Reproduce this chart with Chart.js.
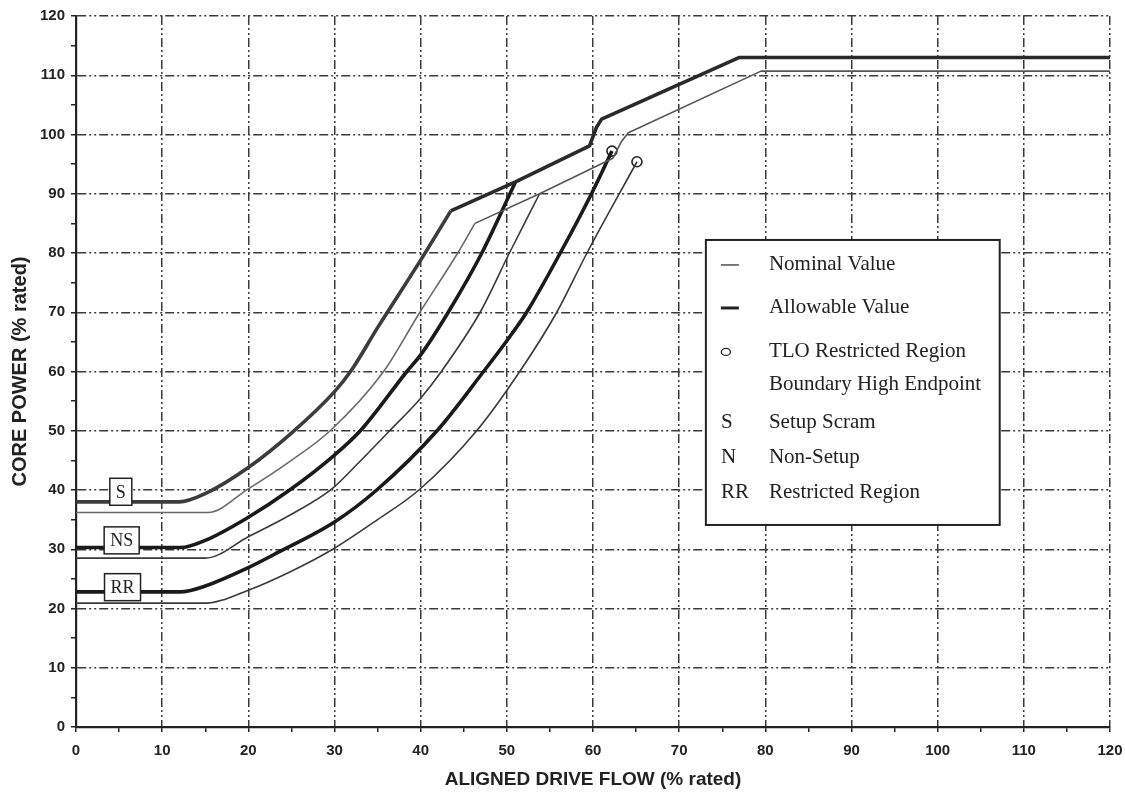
<!DOCTYPE html>
<html>
<head>
<meta charset="utf-8">
<script src="https://cdn.jsdelivr.net/npm/chart.js@4.4.1/dist/chart.umd.min.js"></script>
<style>
  body { margin: 0; background: #fff; }
  #grafica { display: block; }
</style>
</head>
<body>
<canvas id="grafica" width="1125" height="799"></canvas>
<script>
// ejes
const flowTicks = [0, 10, 20, 30, 40, 50, 60, 70, 80, 90, 100, 110, 120];
const powerTicks = [0, 10, 20, 30, 40, 50, 60, 70, 80, 90, 100, 110, 120];

// Setup Scram (S): tramo curvo y tramo recto
const sAllowFlow = [0, 12, 15, 20, 25, 30, 32, 35, 40, 43.5];
const sAllowPower = [38, 38, 39.4, 43.8, 49.6, 56.6, 60.3, 67.4, 78.8, 87.1];
const sAllowTopFlow = [43.5, 51, 59.6, 60.4, 61, 77, 120];
const sAllowTopPower = [87.1, 92, 98.1, 101.2, 102.6, 113, 113];
const sNomFlow = [0, 15.3, 20, 25, 29.5, 35.7, 39.7, 44.3, 46.3];
const sNomPower = [36.2, 36.2, 40.2, 45, 50, 60, 69.5, 80, 85];
const sNomTopFlow = [46.3, 53.8, 62.3, 63.3, 64.1, 79.5, 120];
const sNomTopPower = [85, 90, 96, 98.8, 100.3, 110.7, 110.7];

// Non-Setup (NS)
const nsAllowFlow = [0, 12.1, 15, 20, 24.8, 30, 33, 38.4, 40, 43.2, 47.1, 51];
const nsAllowPower = [30.3, 30.3, 31.5, 35.4, 40, 45.9, 50, 60, 62.8, 70, 80, 92];
const nsNomFlow = [0, 15, 20, 25, 29.7, 33, 36.4, 40, 42.4, 46.9, 50.3, 53.8];
const nsNomPower = [28.5, 28.5, 32.1, 35.9, 40.2, 44.9, 50, 55.5, 60, 70, 80, 90];

// Restricted Region (RR)
const rrAllowFlow = [0, 12.1, 15, 20, 23.5, 30, 34.9, 41.9, 47.3, 50, 52.3, 56.2, 59.65, 62.2];
const rrAllowPower = [22.8, 22.8, 23.8, 26.9, 29.5, 34.6, 40, 50, 60, 65.2, 70, 80, 89.5, 97.2];
const rrNomFlow = [0, 15, 20, 25, 29.8, 35, 39.8, 46.5, 51.5, 55.8, 59.3, 65.1];
const rrNomPower = [20.9, 20.9, 23.1, 26.3, 30, 35, 40, 50, 60, 70, 80, 95.4];

// TLO Restricted Region Boundary High Endpoint
const tloFlow = [62.2, 65.1];
const tloPower = [97.2, 95.4];

// etiquetas en cajas
const boxLabels = ['S', 'NS', 'RR'];
const boxFlow = [5.2, 5.3, 5.4];
const boxPower = [39.7, 31.5, 23.6];

// leyenda
const legendKind = ['thin', 'thick', 'circle', 'text', 'text', 'text'];
const legendKey = ['', '', '', 'S', 'N', 'RR'];
const legendText = [
    ['Nominal Value'],
    ['Allowable Value'],
    ['TLO Restricted Region', 'Boundary High Endpoint'],
    ['Setup Scram'],
    ['Non-Setup'],
    ['Restricted Region']
];

function puntos(xs, ys) {
    return xs.map((x, i) => ({ x: x, y: ys[i] }));
}

function linea(xs, ys, grueso, color, curva) {
    return {
        data: puntos(xs, ys),
        borderColor: color,
        borderWidth: grueso ? 3.6 : 1.6,
        pointRadius: 0,
        tension: 0,
        cubicInterpolationMode: curva ? 'monotone' : 'default',
        borderJoinStyle: 'round',
        fill: false
    };
}

const serif = '"Liberation Serif", "Times New Roman", serif';
const sans = '"Liberation Sans", Arial, sans-serif';

const anotaciones = {
    id: 'anotaciones',
    afterDatasetsDraw(chart) {
        const ctx = chart.ctx;
        const x = chart.scales.x;
        const y = chart.scales.y;

        // cajas S / NS / RR
        ctx.save();
        ctx.font = '18px ' + serif;
        ctx.textAlign = 'center';
        ctx.textBaseline = 'middle';
        boxLabels.forEach((txt, i) => {
            const cx = x.getPixelForValue(boxFlow[i]);
            const cy = y.getPixelForValue(boxPower[i]);
            const w = ctx.measureText(txt).width + 12;
            const h = 27;
            ctx.fillStyle = '#fff';
            ctx.fillRect(cx - w / 2, cy - h / 2, w, h);
            ctx.strokeStyle = '#222';
            ctx.lineWidth = 1.5;
            ctx.strokeRect(cx - w / 2, cy - h / 2, w, h);
            ctx.fillStyle = '#222';
            ctx.fillText(txt, cx, cy + 1);
        });
        ctx.restore();

        // leyenda
        const left = x.getPixelForValue(73.1);
        const right = x.getPixelForValue(107.2);
        const top = y.getPixelForValue(82.2);
        const bottom = y.getPixelForValue(34.1);
        const filas = [25, 68, 112, 183, 218, 253];

        ctx.save();
        ctx.fillStyle = '#fff';
        ctx.fillRect(left, top, right - left, bottom - top);
        ctx.strokeStyle = '#222';
        ctx.lineWidth = 2;
        ctx.strokeRect(left, top, right - left, bottom - top);

        ctx.font = '21px ' + serif;
        ctx.textBaseline = 'middle';
        ctx.textAlign = 'left';
        legendKind.forEach((kind, i) => {
            const fy = top + filas[i];
            const sx = left + 15;
            ctx.strokeStyle = '#222';
            ctx.fillStyle = '#222';
            if (kind === 'thin' || kind === 'thick') {
                ctx.lineWidth = kind === 'thin' ? 1.2 : 3;
                ctx.beginPath();
                ctx.moveTo(sx, fy);
                ctx.lineTo(sx + 18, fy);
                ctx.stroke();
            } else if (kind === 'circle') {
                ctx.lineWidth = 1.3;
                ctx.beginPath();
                ctx.ellipse(sx + 5, fy, 4.5, 3.5, 0, 0, Math.PI * 2);
                ctx.stroke();
            } else {
                ctx.fillText(legendKey[i], sx, fy);
            }
            legendText[i].forEach((t, j) => {
                ctx.fillText(t, left + 63, fy + j * 33);
            });
        });
        ctx.restore();
    }
};

const colorGrid = (c) => (c.tick && c.tick.value % 10 === 0) ? '#3a3a3a' : 'rgba(0,0,0,0)';

const ctx = document.getElementById('grafica').getContext('2d');
const myChart = new Chart(ctx, {
    type: 'line',
    data: {
        datasets: [
            linea(sNomFlow, sNomPower, false, '#6a6a6a', true),
            linea(sNomTopFlow, sNomTopPower, false, '#555', false),
            linea(nsNomFlow, nsNomPower, false, '#3a3a3a', true),
            linea(rrNomFlow, rrNomPower, false, '#3a3a3a', true),
            linea(sAllowFlow, sAllowPower, true, '#3c3c3c', true),
            linea(sAllowTopFlow, sAllowTopPower, true, '#2a2a2a', false),
            linea(nsAllowFlow, nsAllowPower, true, '#1a1a1a', true),
            linea(rrAllowFlow, rrAllowPower, true, '#1a1a1a', true),
            {
                data: puntos(tloFlow, tloPower),
                showLine: false,
                pointRadius: 5,
                pointBackgroundColor: '#fff',
                pointBorderColor: '#222',
                pointBorderWidth: 1.6
            }
        ]
    },
    options: {
        responsive: false,
        animation: false,
        devicePixelRatio: 1,
        layout: {
            padding: { left: 0, top: 16, right: 0, bottom: 0 }
        },
        scales: {
            x: {
                type: 'linear',
                min: 0,
                max: 120,
                afterFit(scale) {
                    scale.height = 72;
                    scale.paddingRight = 15;
                },
                ticks: {
                    stepSize: 5,
                    autoSkip: false,
                    maxRotation: 0,
                    padding: 10,
                    color: '#222',
                    font: { family: sans, size: 15, weight: 'bold' },
                    callback: (v) => flowTicks.includes(v) ? v : ''
                },
                grid: {
                    color: colorGrid,
                    lineWidth: 1.5,
                    tickColor: '#222',
                    tickLength: 5,
                    tickWidth: 1.5
                },
                border: {
                    display: true,
                    color: '#222',
                    width: 2.2,
                    dash: [9, 3, 2, 3, 2, 3]
                },
                title: {
                    display: true,
                    text: 'ALIGNED DRIVE FLOW (% rated)',
                    color: '#222',
                    font: { family: sans, size: 19, weight: 'bold' },
                    padding: { top: 8, bottom: 8 }
                }
            },
            y: {
                type: 'linear',
                min: 0,
                max: 120,
                afterFit(scale) { scale.width = 76; },
                ticks: {
                    stepSize: 5,
                    autoSkip: false,
                    padding: 6,
                    color: '#222',
                    font: { family: sans, size: 15, weight: 'bold' },
                    callback: (v) => powerTicks.includes(v) ? v : ''
                },
                grid: {
                    color: colorGrid,
                    lineWidth: 1.5,
                    tickColor: '#222',
                    tickLength: 5,
                    tickWidth: 1.5
                },
                border: {
                    display: true,
                    color: '#222',
                    width: 2.2,
                    dash: [9, 3, 2, 3, 2, 3]
                },
                title: {
                    display: true,
                    text: 'CORE POWER (% rated)',
                    color: '#222',
                    font: { family: sans, size: 20, weight: 'bold' },
                    padding: { top: 8, bottom: 0 }
                }
            }
        },
        plugins: {
            legend: { display: false },
            tooltip: { enabled: false }
        }
    },
    plugins: [anotaciones]
});
</script>
</body>
</html>
